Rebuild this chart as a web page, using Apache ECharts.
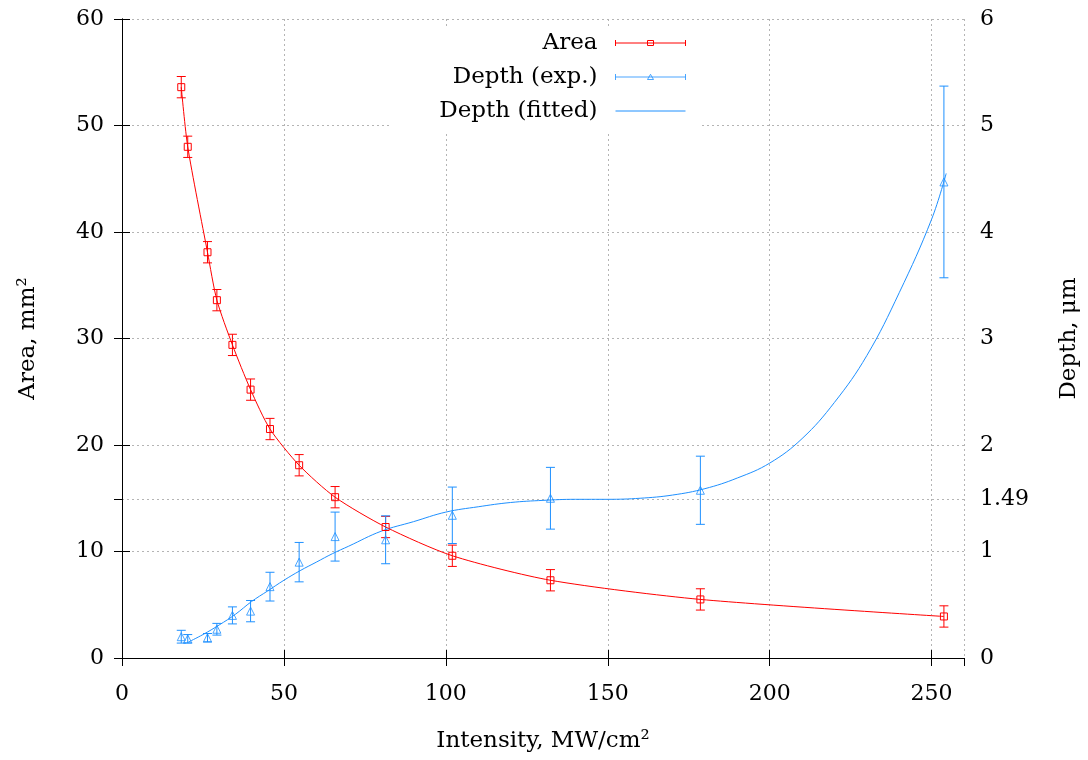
<!DOCTYPE html>
<html><head><meta charset="utf-8">
<script src="https://cdn.jsdelivr.net/npm/echarts@6/dist/echarts.min.js"></script>
<style>html,body{margin:0;padding:0;background:#fff}#c{width:1088px;height:760px}</style>
</head><body><div id="c"></div>
<script>
// ---- data ----
const intensity = [18.3, 20.3, 26.4, 29.3, 34.1, 39.7, 45.7, 54.7, 65.8, 81.4, 102.0, 132.3, 178.6, 253.8];
const area      = [53.6, 48.0, 38.1, 33.6, 29.4, 25.2, 21.5, 18.1, 15.1, 12.3, 9.6, 7.3, 5.5, 3.9];
const areaErr   = [1.0, 1.0, 1.0, 1.0, 1.0, 1.0, 1.0, 1.0, 1.0, 1.0, 1.0, 1.0, 1.0, 1.0];
const depth     = [0.20, 0.18, 0.19, 0.27, 0.40, 0.44, 0.67, 0.90, 1.14, 1.11, 1.34, 1.50, 1.575, 4.47];
const depthErr  = [0.06, 0.04, 0.04, 0.055, 0.08, 0.10, 0.135, 0.185, 0.23, 0.225, 0.265, 0.29, 0.32, 0.90];
const fitX = [20.5, 25, 30, 35, 40, 45, 50, 55, 60, 65, 70, 80, 90, 100, 110, 120, 130, 140, 150, 160, 170, 180, 190, 200, 210, 220, 230, 240, 250, 254.5];
const fitY = [0.15, 0.22, 0.31, 0.41, 0.53, 0.63, 0.73, 0.82, 0.90, 0.98, 1.05, 1.19, 1.28, 1.37, 1.42, 1.46, 1.48, 1.49, 1.49, 1.50, 1.53, 1.59, 1.69, 1.83, 2.06, 2.40, 2.84, 3.43, 4.12, 4.55];
const xTicks = [0, 260, 50];          // min, max, interval
const leftTicks = [0, 60, 10];
const rightTickValues = [0, 1, 1.49, 2, 3, 4, 5, 6];
const seriesNames = ['Area', 'Depth (exp.)', 'Depth (fitted)'];
const axisNames = ['Intensity, MW/cm²', 'Area, mm²', 'Depth, μm'];

// ---- build ----
const FONT = 'DejaVu Serif';
const RED = '#ff0000', BLUE = '#1e90ff';
const GRID = '#b4b4b4';
const areaPts = intensity.map((x, i) => [x, area[i]]);
const depthPts = intensity.map((x, i) => [x, depth[i]]);
const fitPts = fitX.map((x, i) => [x, fitY[i]]);
const areaBars = intensity.map((x, i) => [x, area[i] - areaErr[i], area[i] + areaErr[i]]);
const depthBars = intensity.map((x, i) => [x, depth[i] - depthErr[i], depth[i] + depthErr[i]]);

function errRender(color) {
  return function (params, api) {
    const x = api.value(0), lo = api.value(1), hi = api.value(2);
    const a = api.coord([x, hi]), b = api.coord([x, lo]);
    const w = 4.5;
    const st = { stroke: color, lineWidth: 1 };
    return { type: 'group', children: [
      { type: 'line', shape: { x1: a[0], y1: a[1], x2: b[0], y2: b[1] }, style: st },
      { type: 'line', shape: { x1: a[0] - w, y1: a[1], x2: a[0] + w, y2: a[1] }, style: st },
      { type: 'line', shape: { x1: b[0] - w, y1: b[1], x2: b[0] + w, y2: b[1] }, style: st }
    ]};
  };
}

const lbl = { fontFamily: FONT, fontSize: 22, color: '#000' };
const axLine = { show: true, lineStyle: { color: '#000', width: 1 } };
const tick = { show: true, inside: true, length: 8, lineStyle: { color: '#000', width: 1 } };
const dotted = { show: true, lineStyle: { color: GRID, width: 1, type: [2, 3] } };

const option = {
  animation: false,
  backgroundColor: '#fff',
  grid: { left: 122, right: 124, top: 19, bottom: 102, outerBoundsMode: 'none' },
  legend: {
    orient: 'vertical', right: 388, top: 28, align: 'right',
    itemWidth: 83, itemHeight: 6, itemGap: 10,
    backgroundColor: '#fff', padding: [3, 14, 8, 50], selectedMode: false,
    textStyle: { fontFamily: FONT, fontSize: 23, color: '#000', lineHeight: 24 },
    data: [
      { name: seriesNames[0], icon: 'path://M0,3M13,3L83,3M13,0L13,6M83,0L83,6M45,0.5L51,0.5L51,5.5L45,5.5Z',
        itemStyle: { color: 'rgba(0,0,0,0)', borderColor: RED, borderWidth: 1 } },
      { name: seriesNames[1], icon: 'path://M0,3M13,3L83,3M13,0L13,6M83,0L83,6M48,0.3L51,5.5L45,5.5Z',
        itemStyle: { color: 'rgba(0,0,0,0)', borderColor: BLUE, borderWidth: 1 } },
      { name: seriesNames[2], icon: 'path://M0,0M13,3L83,3M83,6',
        itemStyle: { color: 'rgba(0,0,0,0)', borderColor: BLUE, borderWidth: 1 } }
    ]
  },
  xAxis: [
    { type: 'value', position: 'bottom', min: xTicks[0], max: xTicks[1], interval: xTicks[2],
      name: axisNames[0], nameLocation: 'middle', nameGap: 72,
      nameTextStyle: { fontFamily: FONT, fontSize: 23, color: '#000' },
      axisLine: axLine, axisTick: tick, splitLine: dotted,
      axisLabel: Object.assign({ margin: 25, showMaxLabel: false }, lbl) },
    { type: 'value', position: 'top', min: xTicks[0], max: xTicks[1], interval: xTicks[2],
      axisLine: axLine, axisTick: tick, splitLine: { show: false }, axisLabel: { show: false } }
  ],
  yAxis: [
    { type: 'value', position: 'left', min: leftTicks[0], max: leftTicks[1], interval: leftTicks[2],
      name: axisNames[1], nameLocation: 'middle', nameGap: 82, nameRotate: 90,
      nameTextStyle: { fontFamily: FONT, fontSize: 23, color: '#000' },
      axisLine: axLine, axisTick: tick, splitLine: { show: false },
      axisLabel: Object.assign({ margin: 18 }, lbl) },
    { type: 'value', position: 'right', min: 0, max: 6,
      name: axisNames[2], nameLocation: 'middle', nameGap: 94, nameRotate: 90,
      nameTextStyle: { fontFamily: FONT, fontSize: 23, color: '#000' },
      axisLine: axLine,
      axisTick: Object.assign({ customValues: rightTickValues }, tick),
      splitLine: dotted,
      axisLabel: Object.assign({ margin: 16, customValues: rightTickValues }, lbl) }
  ],
  series: [
    { name: 'areaErr', type: 'custom', xAxisIndex: 0, yAxisIndex: 0, renderItem: errRender(RED),
      encode: { x: 0, y: [1, 2] }, data: areaBars, silent: true, z: 2 },
    { name: 'depthErr', type: 'custom', xAxisIndex: 0, yAxisIndex: 1, renderItem: errRender(BLUE),
      encode: { x: 0, y: [1, 2] }, data: depthBars, silent: true, z: 2 },
    { name: seriesNames[0], type: 'line', xAxisIndex: 0, yAxisIndex: 0, data: areaPts,
      smooth: 0.25, symbol: 'rect', symbolSize: 7, showSymbol: true,
      lineStyle: { color: RED, width: 1 },
      itemStyle: { color: 'rgba(0,0,0,0)', borderColor: RED, borderWidth: 1 }, z: 3 },
    { name: seriesNames[1], type: 'scatter', xAxisIndex: 0, yAxisIndex: 1, data: depthPts,
      symbol: 'triangle', symbolSize: 8,
      itemStyle: { color: 'rgba(0,0,0,0)', borderColor: BLUE, borderWidth: 1 }, z: 3 },
    { name: seriesNames[2], type: 'line', xAxisIndex: 0, yAxisIndex: 1, data: fitPts,
      smooth: 0.4, showSymbol: false, symbol: 'none',
      lineStyle: { color: BLUE, width: 1 }, z: 3 }
  ]
};
const chart = echarts.init(document.getElementById('c'));
chart.setOption(option);
</script>
</body></html>
